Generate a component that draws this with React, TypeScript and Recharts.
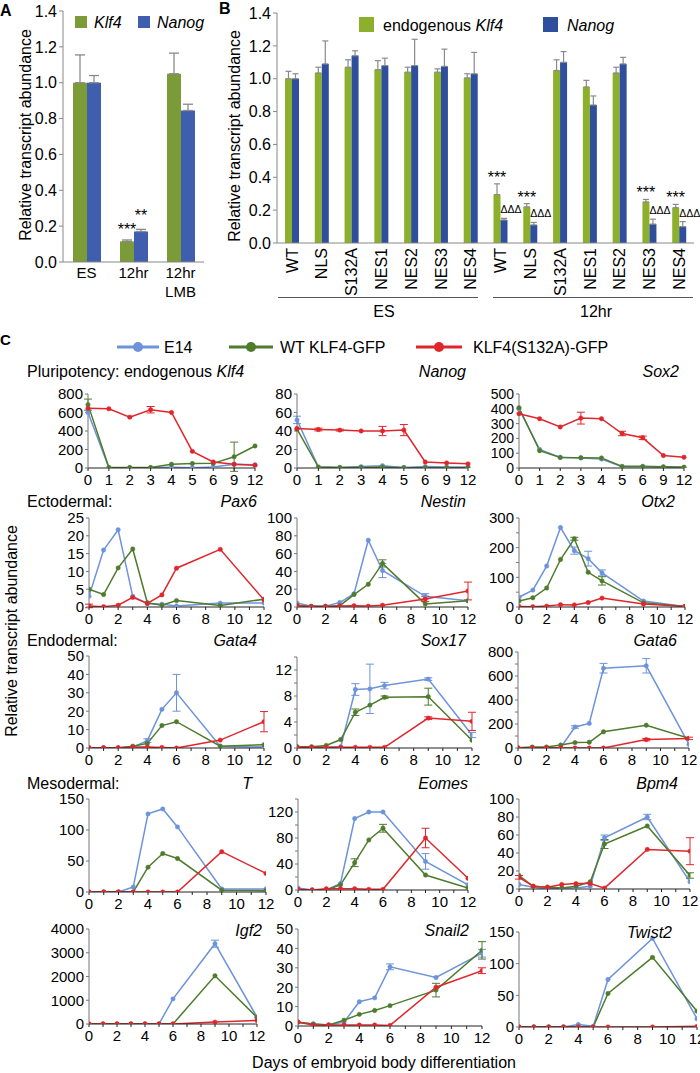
import React from 'react';
import { BarChart, Bar, XAxis, YAxis, ErrorBar, LineChart, Line } from 'recharts';

const FONT = '"Liberation Sans", Arial, Helvetica, sans-serif';

// ---------- Panel A ----------
const A_CATEGORIES = ['ES', '12hr', '12hr\nLMB'];
const A_KLF4 = [1.0, 0.115, 1.05];
const A_KLF4_ERR = [0.155, 0.008, 0.115];
const A_NANOG = [1.0, 0.17, 0.845];
const A_NANOG_ERR = [0.04, 0.012, 0.035];
const A_KLF4_SIG = ['', '***', ''];
const A_NANOG_SIG = ['', '**', ''];
const A_Y_TICKS = [0, 0.2, 0.4, 0.6, 0.8, 1.0, 1.2, 1.4];

// ---------- Panel B ----------
const B_CATEGORIES = ['WT', 'NLS', 'S132A', 'NES1', 'NES2', 'NES3', 'NES4', 'WT', 'NLS', 'S132A', 'NES1', 'NES2', 'NES3', 'NES4'];
const B_KLF4 = [1.0, 1.035, 1.07, 1.055, 1.04, 1.04, 1.005, 0.295, 0.22, 1.05, 0.95, 1.035, 0.25, 0.215];
const B_KLF4_ERR = [0.045, 0.035, 0.045, 0.055, 0.03, 0.02, 0.025, 0.065, 0.02, 0.065, 0.04, 0.035, 0.015, 0.02];
const B_NANOG = [1.0, 1.09, 1.14, 1.08, 1.08, 1.075, 1.03, 0.14, 0.11, 1.1, 0.84, 1.09, 0.115, 0.1];
const B_NANOG_ERR = [0.03, 0.14, 0.03, 0.045, 0.16, 0.105, 0.13, 0.01, 0.015, 0.065, 0.055, 0.04, 0.03, 0.03];
const B_KLF4_SIG = ['', '', '', '', '', '', '', '***', '***', '', '', '', '***', '***'];
const B_NANOG_SIG = ['', '', '', '', '', '', '', 'ΔΔΔ', 'ΔΔΔ', '', '', '', 'ΔΔΔ', 'ΔΔΔ'];
const B_Y_TICKS = [0, 0.2, 0.4, 0.6, 0.8, 1.0, 1.2, 1.4];

// ---------- Panel C ----------
const DAYS = [0, 1, 2, 3, 4, 5, 6, 9, 12];
const X_TICKS = [0, 1, 2, 3, 4, 5, 6, 7, 8, 9, 10, 11, 12];

const KLF4_E14 = [600, 3, 3, 3, 8, 3, 10, 40, 35];
const KLF4_WT = [685, 5, 5, 5, 40, 48, 50, 122, 238];
const KLF4_MUT = [645, 640, 550, 630, 600, 180, 65, 40, 30];
const KLF4_WT_ERR = [60, 0, 0, 0, 0, 0, 0, 158, 0];
const KLF4_MUT_ERR = [0, 0, 0, 35, 0, 0, 0, 0, 0];

const NANOG_E14 = [52, 1, 0.5, 1.5, 2.5, 0.5, 1.5, 1, 1];
const NANOG_WT = [42, 1, 0.5, 0.5, 1, 0.3, 0.3, 0.3, 0.3];
const NANOG_MUT = [42.7, 41.6, 41, 40, 40, 41, 6.5, 5.5, 4.5];
const NANOG_E14_ERR = [4, 0, 0, 0, 0, 0, 0, 0, 0];
const NANOG_MUT_ERR = [0, 1.5, 1, 0, 5, 6, 0, 0, 0];

const SOX2_E14 = [400, 125, 72, 68, 60, 8, 8, 5, 2];
const SOX2_WT = [407, 117, 71, 70, 68, 11, 11, 8, 6];
const SOX2_MUT = [367, 333, 277, 337, 333, 233, 204, 84, 73];
const SOX2_MUT_ERR = [0, 0, 0, 40, 0, 15, 12, 0, 0];

const PAX6_E14 = [3, 16, 21.7, 3, 1, 0.8, 0.3, 1.1, 1.1];
const PAX6_WT = [5, 3.5, 11, 16.3, 1.2, 0.5, 1.8, 0.4, 2.2];
const PAX6_MUT = [0.3, 0.1, 0.5, 2.7, 1, 3.4, 10.9, 16.2, 2];
const PAX6_MUT_ERR = [0.5, 0, 0, 0, 0, 0, 0, 0, 0];

const NESTIN_E14 = [4.5, 1, 1, 5, 15, 75, 41, 12, 7];
const NESTIN_WT = [2, 0.5, 0.5, 1.5, 14, 25.5, 49, 3.5, 7];
const NESTIN_MUT = [1.5, 0.5, 0.5, 1, 1.5, 1, 2, 9, 18];
const NESTIN_E14_ERR = [0, 0, 0, 0, 0, 0, 8, 3, 0];
const NESTIN_WT_ERR = [0, 0, 0, 0, 0, 0, 4, 0, 0];
const NESTIN_MUT_ERR = [0, 0, 0, 0, 0, 0, 0, 3, 10];

const OTX2_E14 = [33, 57, 138, 268, 190, 163, 115, 20, 2];
const OTX2_WT = [20, 31, 64, 160, 230, 117, 88, 14, 2];
const OTX2_MUT = [2, 1, 3, 8, 7, 15, 30, 10, 2];
const OTX2_E14_ERR = [0, 0, 0, 0, 12, 25, 10, 0, 0];
const OTX2_WT_ERR = [0, 0, 0, 0, 5, 0, 14, 0, 0];

const GATA4_E14 = [0, 0, 0, 0.5, 4, 21, 30, 1, 0.5];
const GATA4_WT = [0, 0, 0, 1, 2.5, 12.2, 14.3, 1, 1.8];
const GATA4_MUT = [0.2, 0.2, 0.2, 0.5, 0.5, 0.3, 0, 4.3, 14.3];
const GATA4_E14_ERR = [0, 0, 0, 0, 1, 0, 10, 0, 0];
const GATA4_MUT_ERR = [0, 0, 0, 0, 0, 0, 0, 0, 5.5];

const SOX17_E14 = [0.2, 0.1, 0.1, 0.2, 9, 9.1, 9.6, 10.6, 2];
const SOX17_WT = [0.2, 0.2, 0.4, 1.3, 5.5, 6.6, 7.8, 7.9, 1.2];
const SOX17_MUT = [0.1, 0.1, 0.1, 0.1, 0.1, 0.1, 0.1, 4.6, 4.1];
const SOX17_E14_ERR = [0, 0, 0, 0, 0.9, 3.8, 0.5, 0.2, 0.4];
const SOX17_WT_ERR = [0, 0, 0, 0, 0.5, 0, 0.2, 1.3, 0];
const SOX17_MUT_ERR = [0, 0, 0, 0, 0, 0, 0, 0.2, 1.4];

const GATA6_E14 = [0, 3, 3, 5, 175, 205, 665, 685, 30];
const GATA6_WT = [2, 8, 8, 25, 45, 48, 135, 190, 80];
const GATA6_MUT = [0, 0, 0, 0, 0, 0, 0, 70, 80];
const GATA6_E14_ERR = [0, 0, 0, 0, 10, 0, 40, 60, 0];
const GATA6_MUT_ERR = [0, 0, 0, 0, 0, 0, 0, 10, 10];

const T_E14 = [0, 0, 0, 8, 126, 134, 105, 5, 5];
const T_WT = [0, 0, 0, 0, 40, 62, 54, 3, 2];
const T_MUT = [0, 0, 0, 0, 0, 0, 0, 65, 30];

const EOMES_E14 = [3, 0, 0, 10, 110, 120, 120, 44, 8];
const EOMES_WT = [0, 0, 0, 8, 42, 77, 95, 23, 3];
const EOMES_MUT = [1, 0, 2, 2, 2, 1, 1, 80, 18];
const EOMES_E14_ERR = [0, 0, 0, 0, 0, 0, 0, 12, 0];
const EOMES_WT_ERR = [0, 0, 0, 0, 6, 0, 6, 0, 0];
const EOMES_MUT_ERR = [0, 0, 0, 0, 0, 0, 0, 15, 0];

const BPM4_E14 = [5, 2, 0, 1, 1, 3, 57, 80, 8];
const BPM4_WT = [15, 3, 2, 1, 3, 8, 50, 70, 15];
const BPM4_MUT = [13, 3, 2, 5, 6, 6, 1, 44, 42];
const BPM4_E14_ERR = [0, 0, 0, 0, 0, 0, 3, 3, 0];
const BPM4_WT_ERR = [0, 0, 0, 0, 0, 0, 5, 0, 3];
const BPM4_MUT_ERR = [2, 0, 0, 0, 0, 0, 0, 0, 15];

const IGF2_E14 = [0, 0, 0, 0, 0, 0, 1060, 3380, 290];
const IGF2_WT = [0, 0, 0, 0, 0, 0, 0, 2030, 280];
const IGF2_MUT = [0, 0, 0, 0, 0, 0, 0, 80, 150];
const IGF2_E14_ERR = [0, 0, 0, 0, 0, 0, 0, 150, 0];

const SNAIL2_E14 = [2, 1, 0.5, 2, 12.5, 14.5, 30.5, 25, 37.5];
const SNAIL2_WT = [2, 1, 0.5, 3, 6, 8, 10.5, 18.5, 39];
const SNAIL2_MUT = [2, 0.5, 0.5, 0.5, 0.5, 0.5, 0.3, 20, 28.5];
const SNAIL2_E14_ERR = [0, 0, 0, 0, 0, 0, 1.5, 0, 2];
const SNAIL2_WT_ERR = [0, 0, 0, 0, 0, 0, 0, 3.5, 4.5];
const SNAIL2_MUT_ERR = [0, 0, 0, 0, 0, 0, 0, 0, 1.5];

const TWIST2_E14 = [0, 0, 0, 0, 4, 1, 75, 140, 13];
const TWIST2_WT = [0, 0, 0, 0, 0, 0, 53, 110, 25];
const TWIST2_MUT = [0, 0, 0, 0, 0, 0, 0, 0, 1];

// ---------- styles ----------
const A_GREEN = '#7b9a38';
const A_BLUE = '#3f5fae';
const B_GREEN = '#8cb02b';
const B_BLUE = '#2f4e9b';
const C_E14 = '#6d93da';
const C_WT = '#4e7b2c';
const C_MUT = '#e0262b';
const SERIES = [
  { key: 'e14', color: C_E14 },
  { key: 'wt', color: C_WT },
  { key: 'mut', color: C_MUT },
];

type Gene = { e14: number[]; wt: number[]; mut: number[]; e14Err?: number[]; wtErr?: number[]; mutErr?: number[] };

function buildRows(g: Gene) {
  return DAYS.map((d, i) => ({
    day: d,
    label: String(d),
    e14: g.e14[i],
    wt: g.wt[i],
    mut: g.mut[i],
    e14Err: g.e14Err ? g.e14Err[i] : 0,
    wtErr: g.wtErr ? g.wtErr[i] : 0,
    mutErr: g.mutErr ? g.mutErr[i] : 0,
  }));
}

const range = (a: number, b: number, s: number) => {
  const out: number[] = [];
  for (let v = a; v <= b + 1e-9; v += s) out.push(v);
  return out;
};

const PANELS = [
  { title: 'Klf4', tx: 0, ty: 0, g: { e14: KLF4_E14, wt: KLF4_WT, mut: KLF4_MUT, wtErr: KLF4_WT_ERR, mutErr: KLF4_MUT_ERR }, x0: 88, x1: 255, top: 394, bottom: 468, yMax: 800, step: 200, every: 200, cat: true, noTitle: true },
  { title: 'Nanog', tx: 466, ty: 371, g: { e14: NANOG_E14, wt: NANOG_WT, mut: NANOG_MUT, e14Err: NANOG_E14_ERR, mutErr: NANOG_MUT_ERR }, x0: 297, x1: 468, top: 394, bottom: 468, yMax: 80, step: 20, every: 20, cat: true },
  { title: 'Sox2', tx: 679, ty: 371, g: { e14: SOX2_E14, wt: SOX2_WT, mut: SOX2_MUT, mutErr: SOX2_MUT_ERR }, x0: 519, x1: 684, top: 394, bottom: 468, yMax: 500, step: 100, every: 100, cat: true, small: true },
  { title: 'Pax6', tx: 257, ty: 501, g: { e14: PAX6_E14, wt: PAX6_WT, mut: PAX6_MUT, mutErr: PAX6_MUT_ERR }, x0: 89, x1: 264, top: 518, bottom: 607, yMax: 25, step: 5, every: 5 },
  { title: 'Nestin', tx: 466, ty: 501, g: { e14: NESTIN_E14, wt: NESTIN_WT, mut: NESTIN_MUT, e14Err: NESTIN_E14_ERR, wtErr: NESTIN_WT_ERR, mutErr: NESTIN_MUT_ERR }, x0: 297, x1: 468, top: 518, bottom: 607, yMax: 100, step: 20, every: 20 },
  { title: 'Otx2', tx: 675, ty: 501, g: { e14: OTX2_E14, wt: OTX2_WT, mut: OTX2_MUT, e14Err: OTX2_E14_ERR, wtErr: OTX2_WT_ERR }, x0: 519, x1: 685, top: 518, bottom: 607, yMax: 300, step: 50, every: 100 },
  { title: 'Gata4', tx: 257, ty: 640, g: { e14: GATA4_E14, wt: GATA4_WT, mut: GATA4_MUT, e14Err: GATA4_E14_ERR, mutErr: GATA4_MUT_ERR }, x0: 89, x1: 264, top: 656, bottom: 748, yMax: 50, step: 10, every: 10 },
  { title: 'Sox17', tx: 466, ty: 640, g: { e14: SOX17_E14, wt: SOX17_WT, mut: SOX17_MUT, e14Err: SOX17_E14_ERR, wtErr: SOX17_WT_ERR, mutErr: SOX17_MUT_ERR }, x0: 297, x1: 472, top: 657, bottom: 748, yMax: 14, step: 2, every: 4 },
  { title: 'Gata6', tx: 677, ty: 640, g: { e14: GATA6_E14, wt: GATA6_WT, mut: GATA6_MUT, e14Err: GATA6_E14_ERR, mutErr: GATA6_MUT_ERR }, x0: 518, x1: 689, top: 652, bottom: 748, yMax: 800, step: 100, every: 200 },
  { title: 'T', tx: 252, ty: 783, g: { e14: T_E14, wt: T_WT, mut: T_MUT }, x0: 89, x1: 266, top: 799, bottom: 892, yMax: 150, step: 50, every: 50 },
  { title: 'Eomes', tx: 468, ty: 783, g: { e14: EOMES_E14, wt: EOMES_WT, mut: EOMES_MUT, e14Err: EOMES_E14_ERR, wtErr: EOMES_WT_ERR, mutErr: EOMES_MUT_ERR }, x0: 298, x1: 468, top: 799, bottom: 890, yMax: 140, step: 20, every: 40 },
  { title: 'Bpm4', tx: 678, ty: 783, g: { e14: BPM4_E14, wt: BPM4_WT, mut: BPM4_MUT, e14Err: BPM4_E14_ERR, wtErr: BPM4_WT_ERR, mutErr: BPM4_MUT_ERR }, x0: 519, x1: 690, top: 799, bottom: 889, yMax: 100, step: 20, every: 20 },
  { title: 'Igf2', tx: 262, ty: 930, g: { e14: IGF2_E14, wt: IGF2_WT, mut: IGF2_MUT, e14Err: IGF2_E14_ERR }, x0: 89, x1: 257, top: 929, bottom: 1024, yMax: 4000, step: 1000, every: 1000 },
  { title: 'Snail2', tx: 469, ty: 930, g: { e14: SNAIL2_E14, wt: SNAIL2_WT, mut: SNAIL2_MUT, e14Err: SNAIL2_E14_ERR, wtErr: SNAIL2_WT_ERR, mutErr: SNAIL2_MUT_ERR }, x0: 298, x1: 482, top: 929, bottom: 1026, yMax: 50, step: 10, every: 10 },
  { title: 'Twist2', tx: 672, ty: 932, g: { e14: TWIST2_E14, wt: TWIST2_WT, mut: TWIST2_MUT }, x0: 519, x1: 697, top: 932, bottom: 1027, yMax: 150, step: 50, every: 50 },
];

// ---------- helpers ----------
function Txt({ x, y, children, size = 16, anchor = 'start', italic = false, bold = false }: any) {
  const lh = Math.round(size * 1.2);
  const style: React.CSSProperties = {
    position: 'absolute',
    top: y - lh / 2,
    lineHeight: lh + 'px',
    fontSize: size,
    fontFamily: FONT,
    fontStyle: italic ? 'italic' : 'normal',
    fontWeight: bold ? 'bold' : 'normal',
    whiteSpace: 'nowrap',
    color: '#000',
  };
  if (anchor === 'end') style.right = 700 - x;
  else if (anchor === 'middle') {
    style.left = x;
    style.transform = 'translateX(-50%)';
  } else style.left = x;
  return <div style={style}>{children}</div>;
}

function VTxt({ x, y, children, size = 16 }: any) {
  return (
    <div
      style={{
        position: 'absolute',
        left: x,
        top: y,
        transform: 'translate(-50%, -50%) rotate(-90deg)',
        fontSize: size,
        fontFamily: FONT,
        whiteSpace: 'nowrap',
        lineHeight: '18px',
        color: '#000',
      }}
    >
      {children}
    </div>
  );
}

const makeShape = (color: string, valueKey: string, errKey: string, sigKey: string, anchor: 'middle' | 'start', fontSize: number, gap: number) =>
  (props: any) => {
    const { x, y, width, height, payload } = props;
    const v = payload[valueKey];
    const err = payload[errKey] ? payload[errKey][1] : 0;
    const ppu = v ? height / v : 0;
    const errTop = y - err * ppu;
    const sig = payload[sigKey];
    return (
      <g>
        <rect x={x} y={y} width={width} height={height} fill={color} />
        {sig ? (
          <text x={anchor === 'middle' ? x + width / 2 : x} y={errTop - gap} textAnchor={anchor} fontSize={fontSize} fontFamily={FONT} fill="#000">
            {sig}
          </text>
        ) : null}
      </g>
    );
  };

function ATick(props: any) {
  const { x, y, payload } = props;
  const lines = String(payload.value).split('\n');
  return (
    <text x={x} y={y} textAnchor="middle" fontSize={15} fontFamily={FONT} fill="#000">
      {lines.map((l, i) => (
        <tspan key={i} x={x} dy={i === 0 ? 15.5 : 19}>
          {l}
        </tspan>
      ))}
    </text>
  );
}

function BTick(props: any) {
  const { x, y, payload } = props;
  const yy = y + 5;
  return (
    <text x={x} y={yy} transform={`rotate(-90, ${x}, ${yy})`} textAnchor="end" dy="0.36em" fontSize={16} fontFamily={FONT} fill="#000">
      {B_CATEGORIES[payload.value]}
    </text>
  );
}

function SmallChart({ p }: any) {
  const ML = 45;
  const MT = 8;
  const MR = 14;
  const XH = 28;
  const width = p.x1 - p.x0 + ML + MR;
  const height = p.bottom - p.top + MT + XH;
  const data = buildRows(p.g);
  const tickStyle = { fill: '#000', fontSize: 15, fontFamily: FONT };
  const yTickStyle = { fill: '#000', fontSize: p.small ? 14 : 15, fontFamily: FONT };
  const yTicks = range(0, p.yMax, p.step);
  return (
    <div style={{ position: 'absolute', left: p.x0 - ML, top: p.top - MT }}>
      <LineChart width={width} height={height} data={data} margin={{ top: MT, right: MR, left: 5, bottom: 0 }}>
        {p.cat ? (
          <XAxis dataKey="label" type="category" interval={0} height={XH} tick={tickStyle} tickSize={3} tickMargin={3} stroke="#222" padding={{ left: 0, right: 0 }} />
        ) : (
          <XAxis
            dataKey="day"
            type="number"
            domain={[0, 12]}
            ticks={X_TICKS}
            interval={0}
            tickFormatter={(v: number) => (v % 2 === 0 ? String(v) : '')}
            height={XH}
            tick={tickStyle}
            tickSize={3}
            tickMargin={3}
            stroke="#222"
            allowDataOverflow
          />
        )}
        <YAxis
          width={40}
          type="number"
          domain={[0, p.yMax]}
          ticks={yTicks}
          interval={0}
          tickFormatter={(v: number) => (Math.round(v) % p.every === 0 ? String(v) : '')}
          tick={yTickStyle}
          tickSize={3}
          tickMargin={2}
          stroke="#777"
          allowDataOverflow
        />
        {SERIES.map((s) => (
          <Line
            key={s.key}
            dataKey={s.key}
            stroke={s.color}
            strokeWidth={1.5}
            dot={{ r: 2.2, fill: s.color, stroke: s.color, strokeWidth: 0.5 }}
            activeDot={false}
            isAnimationActive={false}
          >
            <ErrorBar dataKey={s.key + 'Err'} width={4} stroke={s.color} strokeWidth={1} direction="y" />
          </Line>
        ))}
      </LineChart>
    </div>
  );
}

function LegendLine({ x0, x1, y, color }: any) {
  return (
    <svg style={{ position: 'absolute', left: x0, top: y - 7 }} width={x1 - x0} height={14}>
      <line x1={0} x2={x1 - x0} y1={7} y2={7} stroke={color} strokeWidth={3} />
      <circle cx={(x1 - x0) / 2} cy={7} r={5} fill={color} />
    </svg>
  );
}

export default function App() {
  const aData = A_CATEGORIES.map((c, i) => ({
    cat: c,
    klf4: A_KLF4[i],
    klf4Err: [0, A_KLF4_ERR[i]],
    klf4Sig: A_KLF4_SIG[i],
    nanog: A_NANOG[i],
    nanogErr: [0, A_NANOG_ERR[i]],
    nanogSig: A_NANOG_SIG[i],
  }));
  const bData = B_CATEGORIES.map((c, i) => ({
    idx: i,
    klf4: B_KLF4[i],
    klf4Err: [0, B_KLF4_ERR[i]],
    klf4Sig: B_KLF4_SIG[i],
    nanog: B_NANOG[i],
    nanogErr: [0, B_NANOG_ERR[i]],
    nanogSig: B_NANOG_SIG[i],
  }));
  const axisTick = { fill: '#000', fontSize: 16, fontFamily: FONT };

  return (
    <div style={{ position: 'absolute', left: 0, top: 0, width: 700, height: 1073, overflow: 'hidden', background: '#fff', fontFamily: FONT }}>
      {/* Panel A */}
      <Txt x={0} y={10} size={16} bold>A</Txt>
      <div style={{ position: 'absolute', left: 0, top: 0 }}>
        <BarChart width={215} height={300} data={aData} margin={{ top: 11, right: 11, left: 13, bottom: 3 }} barGap={0}>
          <XAxis dataKey="cat" tick={<ATick />} tickLine={false} tickSize={0} tickMargin={0} interval={0} height={35} stroke="#888" />
          <YAxis width={50} type="number" domain={[0, 1.4]} ticks={A_Y_TICKS} interval={0} tickFormatter={(v: number) => v.toFixed(1)} tick={axisTick} tickSize={4} tickMargin={2} stroke="#888" />
          <Bar dataKey="klf4" barSize={14} fill={A_GREEN} isAnimationActive={false} shape={makeShape(A_GREEN, 'klf4', 'klf4Err', 'klf4Sig', 'middle', 16, 5)}>
            <ErrorBar dataKey="klf4Err" width={5} stroke="#8a8a8a" strokeWidth={1.3} />
          </Bar>
          <Bar dataKey="nanog" barSize={14} fill={A_BLUE} isAnimationActive={false} shape={makeShape(A_BLUE, 'nanog', 'nanogErr', 'nanogSig', 'middle', 16, 8)}>
            <ErrorBar dataKey="nanogErr" width={5} stroke="#8a8a8a" strokeWidth={1.3} />
          </Bar>
        </BarChart>
      </div>
      <VTxt x={26} y={135}>Relative transcript abundance</VTxt>
      <div style={{ position: 'absolute', left: 75, top: 16, width: 12, height: 12, background: A_GREEN }} />
      <Txt x={94} y={22} italic>Klf4</Txt>
      <div style={{ position: 'absolute', left: 138, top: 16, width: 12, height: 12, background: A_BLUE }} />
      <Txt x={157} y={22} italic>Nanog</Txt>

      {/* Panel B */}
      <Txt x={219} y={8} size={16} bold>B</Txt>
      <div style={{ position: 'absolute', left: 200, top: 0 }}>
        <BarChart width={500} height={300} data={bData} margin={{ top: 13, right: 6, left: 32, bottom: 2 }} barGap={0}>
          <XAxis dataKey="idx" tick={<BTick />} tickLine={false} tickSize={0} tickMargin={0} interval={0} height={55} stroke="#888" />
          <YAxis width={45} type="number" domain={[0, 1.4]} ticks={B_Y_TICKS} interval={0} tickFormatter={(v: number) => v.toFixed(1)} tick={axisTick} tickSize={4} tickMargin={2} stroke="#888" />
          <Bar dataKey="klf4" barSize={7} fill={B_GREEN} isAnimationActive={false} shape={makeShape(B_GREEN, 'klf4', 'klf4Err', 'klf4Sig', 'middle', 16, 1)}>
            <ErrorBar dataKey="klf4Err" width={3} stroke="#8a8a8a" strokeWidth={1.2} />
          </Bar>
          <Bar dataKey="nanog" barSize={7} fill={B_BLUE} isAnimationActive={false} shape={makeShape(B_BLUE, 'nanog', 'nanogErr', 'nanogSig', 'start', 10.5, 5)}>
            <ErrorBar dataKey="nanogErr" width={3} stroke="#8a8a8a" strokeWidth={1.2} />
          </Bar>
        </BarChart>
      </div>
      <VTxt x={235} y={136}>Relative transcript abundance</VTxt>
      <div style={{ position: 'absolute', left: 359, top: 17, width: 15, height: 15, background: B_GREEN }} />
      <Txt x={383} y={25}>
        endogenous <i>Klf4</i>
      </Txt>
      <div style={{ position: 'absolute', left: 543, top: 17, width: 15, height: 15, background: B_BLUE }} />
      <Txt x={567} y={25} italic>Nanog</Txt>
      <div style={{ position: 'absolute', left: 278, top: 297, width: 200, height: 0, borderTop: '1.5px solid #555' }} />
      <div style={{ position: 'absolute', left: 493, top: 297, width: 200, height: 0, borderTop: '1.5px solid #555' }} />
      <Txt x={384} y={311} anchor="middle">ES</Txt>
      <Txt x={596} y={311} anchor="middle">12hr</Txt>

      {/* Panel C */}
      <Txt x={0} y={340} size={15} bold>C</Txt>
      <LegendLine x0={117} x1={159} y={347} color={C_E14} />
      <Txt x={164} y={347}>E14</Txt>
      <LegendLine x0={229} x1={273} y={347} color={C_WT} />
      <Txt x={280} y={347}>WT KLF4-GFP</Txt>
      <LegendLine x0={416} x1={462} y={347} color={C_MUT} />
      <Txt x={473} y={347}>KLF4(S132A)-GFP</Txt>

      <Txt x={27} y={371}>
        Pluripotency: endogenous <i>Klf4</i>
      </Txt>
      <Txt x={27} y={501}>Ectodermal:</Txt>
      <Txt x={27} y={640}>Endodermal:</Txt>
      <Txt x={27} y={783}>Mesodermal:</Txt>

      {PANELS.map((p, i) => (
        <React.Fragment key={i}>
          <SmallChart p={p} />
          {p.noTitle ? null : (
            <Txt x={p.tx} y={p.ty} anchor="end" italic>
              {p.title}
            </Txt>
          )}
        </React.Fragment>
      ))}

      <VTxt x={12} y={631}>Relative transcript abundance</VTxt>
      <Txt x={384} y={1062} anchor="middle">Days of embryoid body differentiation</Txt>
    </div>
  );
}
